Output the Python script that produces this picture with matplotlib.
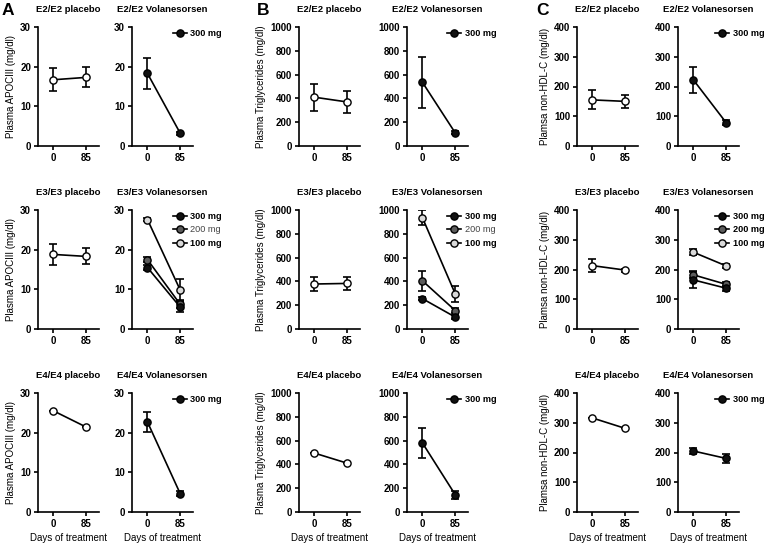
import matplotlib
matplotlib.use('Agg')
import matplotlib.pyplot as plt
from matplotlib.lines import Line2D

plt.rcParams['font.family'] = ['Liberation Sans', 'DejaVu Sans']
plt.rcParams['font.weight'] = 'bold'

days = [0, 85]
genotypes = ['E2/E2', 'E3/E3', 'E4/E4']
doses = ['300 mg', '200 mg', '100 mg']

# A - plasma APOCIII
apoc_plac = [[16.7, 17.3], [18.8, 18.3], [25.5, 21.4]]
apoc_plac_err = [[2.9, 2.5], [2.7, 2.0], [0, 0]]
apoc_300 = [[18.3, 3.2], [15.5, 5.5], [22.7, 4.6]]
apoc_300_err = [[4.0, 0.4], [0.7, 1.2], [2.5, 0.6]]
apoc_200 = [17.5, 6.2]
apoc_200_err = [0.7, 1.0]
apoc_100 = [27.6, 9.8]
apoc_100_err = [0.4, 2.7]

# B - plasma triglycerides
tg_plac = [[410, 370], [378, 383], [495, 410]]
tg_plac_err = [[115, 95], [62, 53], [0, 0]]
tg_300 = [[535, 110], [255, 100], [580, 145]]
tg_300_err = [[212, 12], [12, 15], [125, 35]]
tg_200 = [405, 155]
tg_200_err = [85, 20]
tg_100 = [935, 295]
tg_100_err = [65, 70]

# C - plasma non-HDL-C
nhdl_plac = [[155, 150], [213, 198], [316, 281]]
nhdl_plac_err = [[32, 22], [21, 5], [0, 0]]
nhdl_300 = [[222, 78], [165, 137], [205, 180]]
nhdl_300_err = [[45, 8], [27, 8], [9, 14]]
nhdl_200 = [182, 150]
nhdl_200_err = [12, 8]
nhdl_100 = [258, 212]
nhdl_100_err = [10, 6]

dose_colors = ['#111111', '#5c5c5c', '#d9d9d9']

W, H = 766, 544
fig = plt.figure(figsize=(W / 100, H / 100), dpi=100)

col_left = [38, 132, 299, 407, 577, 678]
row_top = [27, 210, 393]
ax_w, ax_h = 61, 119


def make_ax(col, row):
    l = col_left[col]
    t = row_top[row]
    ax = fig.add_axes([l / W, (H - t - ax_h) / H, ax_w / W, ax_h / H])
    for s in ['top', 'right']:
        ax.spines[s].set_visible(False)
    for s in ['left', 'bottom']:
        ax.spines[s].set_linewidth(1.2)
    ax.tick_params(direction='out', length=3, width=1.2, labelsize=7, pad=2)
    ax.set_xlim(-40, 118)
    ax.set_xticks(days)
    return ax


def series(ax, y, err, fc):
    ax.errorbar(days, y, yerr=err, fmt='-o', color='black', mfc=fc, mec='black',
                ms=5.2, lw=1.2, elinewidth=1.2, capsize=3, capthick=1.2, zorder=3)


def handle(fc):
    return Line2D([0], [0], color='black', marker='o', mfc=fc, mec='black', ms=5.2, lw=1.2)


panels = [
    ('A', apoc_plac, apoc_plac_err, apoc_300, apoc_300_err, apoc_200, apoc_200_err,
     apoc_100, apoc_100_err, 30, [0, 10, 20, 30], 'Plasma APOCIII (mg/dl)', 0.64),
    ('B', tg_plac, tg_plac_err, tg_300, tg_300_err, tg_200, tg_200_err,
     tg_100, tg_100_err, 1000, [0, 200, 400, 600, 800, 1000], 'Plasma Triglycerides (mg/dl)', 0.63),
    ('C', nhdl_plac, nhdl_plac_err, nhdl_300, nhdl_300_err, nhdl_200, nhdl_200_err,
     nhdl_100, nhdl_100_err, 400, [0, 100, 200, 300, 400], 'Plamsa non-HDL-C (mg/dl)', 0.58),
]

letter_x = [2, 257, 536]

for p, (letter, plac, plac_e, d300, d300_e, d200, d200_e, d100, d100_e,
        ymax, yticks, ylab, lx) in enumerate(panels):
    fig.text(letter_x[p] / W, 1 - 3 / H, letter, fontsize=12.5, fontweight='bold', va='top')
    for r in range(3):
        # placebo
        ax = make_ax(2 * p, r)
        series(ax, plac[r], plac_e[r], 'white')
        ax.set_ylim(0, ymax)
        ax.set_yticks(yticks)
        ax.set_ylabel(ylab, fontsize=7, labelpad=3)
        ax.set_title(genotypes[r] + ' placebo', fontsize=6.8, fontweight='bold', pad=11)
        if r == 2:
            ax.set_xlabel('Days of treatment', fontsize=7, labelpad=3)

        # volanesorsen
        ax = make_ax(2 * p + 1, r)
        ax.set_ylim(0, ymax)
        ax.set_yticks(yticks)
        ax.set_title(genotypes[r] + ' Volanesorsen', fontsize=6.8, fontweight='bold', pad=11)
        if r == 2:
            ax.set_xlabel('Days of treatment', fontsize=7, labelpad=3)
        if r == 1:
            series(ax, d100, d100_e, dose_colors[2])
            series(ax, d200, d200_e, dose_colors[1])
            series(ax, d300[r], d300_e[r], dose_colors[0])
            hs = [handle(c) for c in dose_colors]
            labs = doses
        else:
            series(ax, d300[r], d300_e[r], dose_colors[0])
            hs = [handle(dose_colors[0])]
            labs = doses[:1]
        leg = ax.legend(hs, labs, loc='upper left', bbox_to_anchor=(lx, 1.0), frameon=False,
                        fontsize=6.6, handlelength=1.5, handletextpad=0.4, borderpad=0,
                        borderaxespad=0.2, labelspacing=0.5)
        leg.set_clip_on(False)
        for t in leg.get_texts():
            if t.get_text() == '200 mg' and letter != 'C':
                t.set_fontweight('normal')
                t.set_color('#444444')

fig.savefig('out.png', dpi=100)
